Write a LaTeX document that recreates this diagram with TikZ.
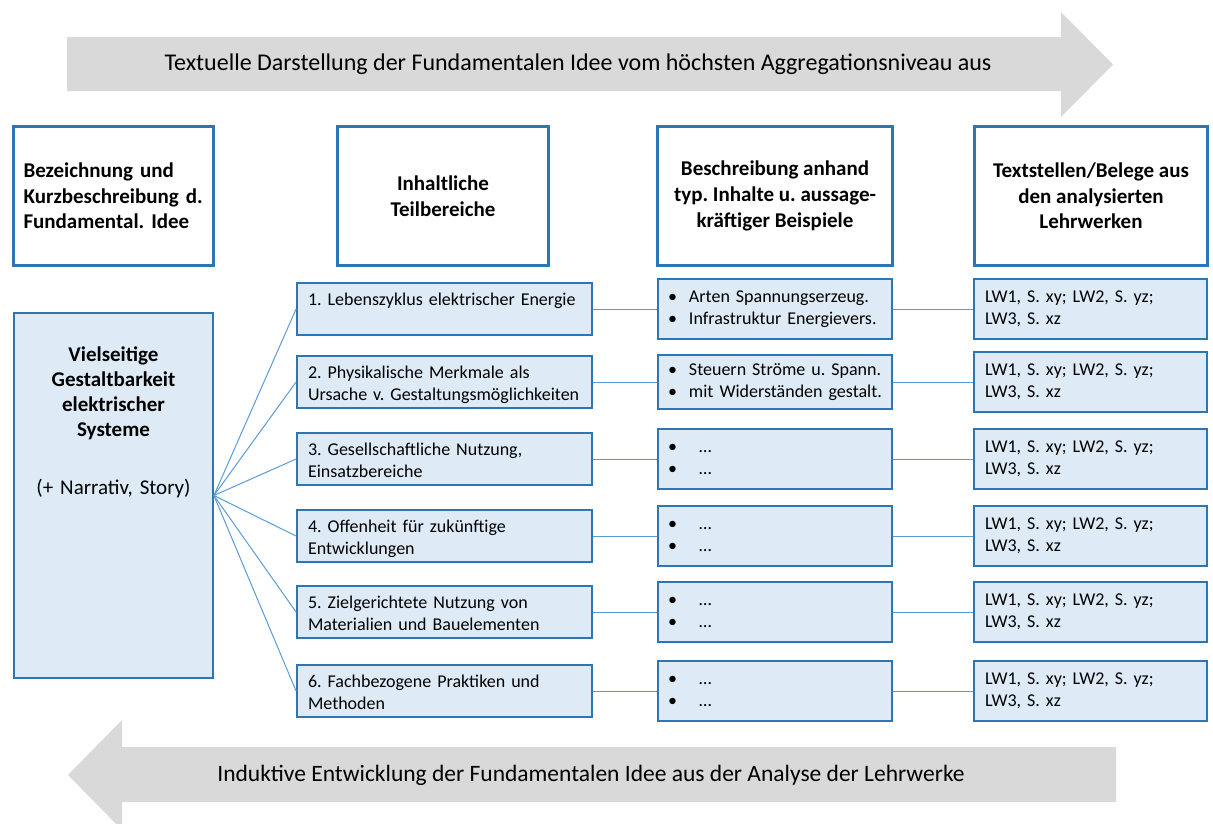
\documentclass[tikz,border=0pt]{standalone}
\usepackage{fontspec}
\setmainfont{Carlito}
\usetikzlibrary{positioning}
\frenchspacing
\hyphenpenalty=10000
\definecolor{BoxBlue}{HTML}{2E75B6}
\definecolor{BoxFill}{HTML}{DEEBF7}
\definecolor{LinkBlue}{HTML}{5B9BD5}
\definecolor{ArrowGray}{HTML}{D9D9D9}
\newcommand{\Punkt}{\makebox[21pt][l]{\textbullet}}
\tikzstyle{HeadBox}  = [rectangle, draw=BoxBlue, line width=3pt, fill=white, minimum height=139pt, font=\fontsize{21}{25.7}\selectfont\bfseries, align=center]
\tikzstyle{ItemBox}  = [rectangle, draw=BoxBlue, line width=1.8pt, fill=BoxFill, font=\fontsize{18}{22}\selectfont, align=left]
\tikzstyle{TeilBox}  = [ItemBox, minimum width=293pt, minimum height=52pt, inner xsep=11pt, text width=273pt, text height=13pt, text depth=21pt]
\tikzstyle{InhaltBox} = [ItemBox, minimum width=234pt, minimum height=60pt, inner xsep=10pt, text width=214pt]
\tikzstyle{BelegBox} = [ItemBox, minimum width=233pt, minimum height=60pt, inner xsep=11pt, text width=211pt]
\tikzstyle{IdeaBox}  = [rectangle, draw=BoxBlue, line width=1.8pt, fill=BoxFill, minimum width=199pt, minimum height=365pt, text width=190pt, align=center, text depth=283pt, font=\fontsize{21}{25}\selectfont]
\tikzstyle{ArrowText} = [font=\fontsize{24}{29}\selectfont]
\tikzstyle{Link}     = [draw=LinkBlue, line width=1pt]
\begin{document}
\begin{tikzpicture}[x=1pt, y=-1pt]
\useasboundingbox (0,0) rectangle (1213,823);

%% ------------------------------------------------------------ [ Arrows ]
\fill[ArrowGray] (67,37) -- (1061,37) -- (1061,12) -- (1113,64.5) -- (1061,117) -- (1061,91) -- (67,91) -- cycle;
\node (oben) [ArrowText] at (578,64) {Textuelle Darstellung der Fundamentalen Idee vom höchsten Aggregationsniveau aus};

\fill[ArrowGray] (1116,747) -- (122,747) -- (122,720) -- (68,775) -- (122,830) -- (122,802) -- (1116,802) -- cycle;
\node (unten) [ArrowText, font=\fontsize{23.5}{28}\selectfont] at (591,775) {Induktive Entwicklung der Fundamentalen Idee aus der Analyse der Lehrwerke};

%% ------------------------------------------------------------ [ Headers ]
\node (bez) [HeadBox, minimum width=200pt, text width=180pt, align=left] at (113.5,196) {Bezeichnung und\\Kurzbeschreibung d.\\Fundamental. Idee};
\node (teil) [HeadBox, minimum width=211pt] at (443,196) {Inhaltliche\\Teilbereiche};
\node (besch) [HeadBox, minimum width=235pt] at (775,196) {Beschreibung anhand\\typ. Inhalte u. aussage-\\kräftiger Beispiele};
\node (belege) [HeadBox, minimum width=233pt] at (1091,196) {Textstellen/Belege aus\\den analysierten\\Lehrwerken};

%% ------------------------------------------------------------ [ Idee ]
\node (idee) [IdeaBox] at (113.5,495.5) {{\bfseries Vielseitige\\Gestaltbarkeit\\elektrischer\\Systeme}\\[33pt](+ Narrativ, Story)};

%% ------------------------------------------------------------ [ Teilbereiche ]
\node (t1) [TeilBox] at (444.5,309) {1. Lebenszyklus elektrischer Energie};
\node (t2) [TeilBox] at (444.5,382) {2. Physikalische Merkmale als\\Ursache v. Gestaltungsmöglichkeiten};
\node (t3) [TeilBox] at (444.5,459) {3. Gesellschaftliche Nutzung,\\Einsatzbereiche};
\node (t4) [TeilBox] at (444.5,536) {4. Offenheit für zukünftige\\Entwicklungen};
\node (t5) [TeilBox] at (444.5,612) {5. Zielgerichtete Nutzung von\\Materialien und Bauelementen};
\node (t6) [TeilBox] at (444.5,691) {6. Fachbezogene Praktiken und\\Methoden};

%% ------------------------------------------------------------ [ Beschreibung ]
\node (b1) [InhaltBox] at (775,309) {\Punkt Arten Spannungserzeug.\\\Punkt Infrastruktur Energievers.};
\node (b2) [InhaltBox, minimum height=54pt] at (775,382) {\Punkt Steuern Ströme u. Spann.\\\Punkt mit Widerständen gestalt.};
\node (b3) [InhaltBox] at (775,459) {\Punkt\hspace{10pt}…\\\Punkt\hspace{10pt}…};
\node (b4) [InhaltBox] at (775,536) {\Punkt\hspace{10pt}…\\\Punkt\hspace{10pt}…};
\node (b5) [InhaltBox] at (775,612) {\Punkt\hspace{10pt}…\\\Punkt\hspace{10pt}…};
\node (b6) [InhaltBox] at (775,691) {\Punkt\hspace{10pt}…\\\Punkt\hspace{10pt}…};

%% ------------------------------------------------------------ [ Belege ]
\foreach \i/\y in {1/309, 2/382, 3/459, 4/536, 5/612, 6/691}
  \node (l\i) [BelegBox] at (1090.5,\y) {LW1, S. xy; LW2, S. yz;\\LW3, S. xz};

%% ------------------------------------------------------------ [ Links ]
\foreach \i in {1,...,6} {
  \draw[Link] (idee.east) -- (t\i.west);
  \draw[Link] (t\i.east) -- (b\i.west);
  \draw[Link] (b\i.east) -- (l\i.west);
}
\end{tikzpicture}
\end{document}
